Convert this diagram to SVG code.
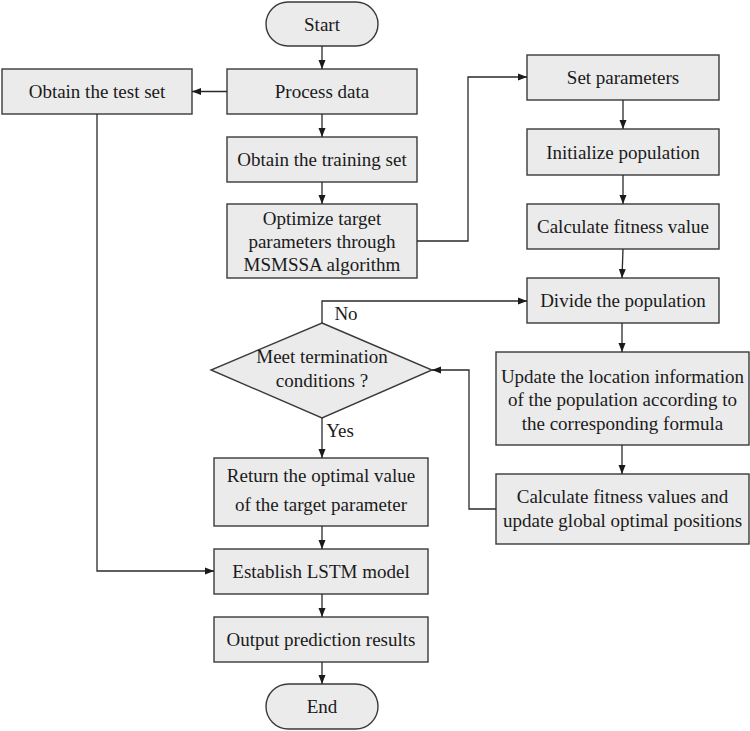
<svg xmlns="http://www.w3.org/2000/svg" width="750" height="731" viewBox="0 0 750 731" font-family="Liberation Serif, Times New Roman, serif">
<style>
  .box { fill: #ebebeb; stroke: #3a3a3a; stroke-width: 1.4; }
  .t { font-size: 19px; fill: #1a1a1a; text-anchor: middle; }
  .c { fill: none; stroke: #2a2a2a; stroke-width: 1.3; marker-end: url(#arr); }
</style>
<defs>
  <marker id="arr" markerUnits="userSpaceOnUse" markerWidth="10" markerHeight="8" refX="9" refY="4" orient="auto">
    <path d="M0,0.5 L9,4 L0,7.5 z" fill="#1a1a1a"/>
  </marker>
</defs>
<rect width="750" height="731" fill="#ffffff"/>

<g id="start"><rect class="box" x="266" y="2" width="112" height="44" rx="22"/><text class="t" font-family="Liberation Serif" x="322" y="30.5">Start</text></g>
<g id="process"><rect class="box" x="227" y="69" width="190" height="45"/><text class="t" font-family="Liberation Serif" x="322" y="98">Process data</text></g>
<g id="testset"><rect class="box" x="2" y="69" width="190" height="45"/><text class="t" font-family="Liberation Serif" x="97" y="98">Obtain the test set</text></g>
<g id="trainset"><rect class="box" x="227" y="137" width="190" height="45"/><text class="t" font-family="Liberation Serif" x="322" y="166">Obtain the training set</text></g>
<g id="optimize" font-family="Liberation Serif"><rect class="box" x="227" y="204" width="190" height="74"/>
  <text class="t" x="322" y="224.5">Optimize target</text>
  <text class="t" x="322" y="247.5">parameters through</text>
  <text class="t" x="322" y="270.5">MSMSSA algorithm</text></g>
<g id="setparams"><rect class="box" x="527" y="55" width="192" height="45"/><text class="t" font-family="Liberation Serif" x="623" y="84">Set parameters</text></g>
<g id="initpop"><rect class="box" x="527" y="129" width="192" height="46"/><text class="t" font-family="Liberation Serif" x="623" y="158.5">Initialize population</text></g>
<g id="calcfit"><rect class="box" x="527" y="204" width="192" height="45"/><text class="t" font-family="Liberation Serif" x="623" y="233">Calculate fitness value</text></g>
<g id="divide"><rect class="box" x="527" y="278" width="192" height="45"/><text class="t" font-family="Liberation Serif" x="623" y="307">Divide the population</text></g>
<g id="update" font-family="Liberation Serif"><rect class="box" x="496" y="352" width="253" height="93"/>
  <text class="t" x="622.5" y="382.5">Update the location information</text>
  <text class="t" x="622.5" y="406">of the population according to</text>
  <text class="t" x="622.5" y="429.5">the corresponding formula</text></g>
<g id="calcupdate" font-family="Liberation Serif"><rect class="box" x="496" y="474" width="253" height="70"/>
  <text class="t" x="622.5" y="503">Calculate fitness values and</text>
  <text class="t" x="622.5" y="527">update global optimal positions</text></g>
<g id="decision" font-family="Liberation Serif"><polygon class="box" points="322,323 432,370 322,418 211,370"/>
  <text class="t" x="322" y="363">Meet termination</text>
  <text class="t" x="322" y="386.5">conditions ?</text></g>
<g id="return" font-family="Liberation Serif"><rect class="box" x="214" y="458" width="214" height="68"/>
  <text class="t" x="321" y="481.5">Return the optimal value</text>
  <text class="t" x="321" y="511">of the target parameter</text></g>
<g id="lstm"><rect class="box" x="214" y="549" width="214" height="45"/><text class="t" font-family="Liberation Serif" x="321" y="578">Establish LSTM model</text></g>
<g id="output"><rect class="box" x="214" y="617" width="214" height="45"/><text class="t" font-family="Liberation Serif" x="321" y="646">Output prediction results</text></g>
<g id="end"><rect class="box" x="266" y="684" width="112" height="45" rx="22.5"/><text class="t" font-family="Liberation Serif" x="322" y="713">End</text></g>

<g id="connectors" font-family="Liberation Serif">
  <path class="c" d="M322,46 V69"/>
  <path class="c" d="M227,91.5 H192"/>
  <path class="c" d="M322,114 V137"/>
  <path class="c" d="M322,182 V204"/>
  <path class="c" d="M417,241 H468 V77 H527"/>
  <path class="c" d="M623,100 V129"/>
  <path class="c" d="M623,175 V204"/>
  <path class="c" d="M623,249 L622,278"/>
  <path class="c" d="M622,323 V352"/>
  <path class="c" d="M622,445 V474"/>
  <path class="c" d="M496,509 H469 V370 H432"/>
  <path class="c" d="M322,323 V301 H527"/>
  <path class="c" d="M322,418 V458"/>
  <path class="c" d="M322,526 V549"/>
  <path class="c" d="M322,594 V617"/>
  <path class="c" d="M322,662 V684"/>
  <path class="c" d="M97,114 V571 H214"/>
  <text class="t" x="346" y="320">No</text>
  <text class="t" x="340" y="437">Yes</text>
</g>
</svg>
